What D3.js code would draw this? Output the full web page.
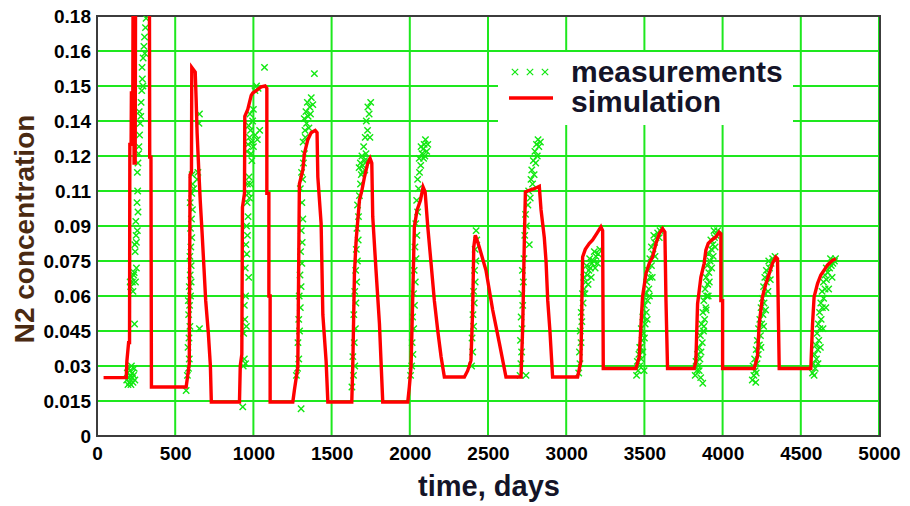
<!DOCTYPE html>
<html>
<head>
<meta charset="utf-8">
<script src="https://cdn.jsdelivr.net/npm/d3@7"></script>
<style>
  body { margin: 0; background: #fff; }
  svg { display: block; font-family: "Liberation Sans", Arial, sans-serif; }
</style>
</head>
<body>
<div id="chart"></div>
<script>
/* data: time in days, N2 concentration */
const xTicks = [0, 500, 1000, 1500, 2000, 2500, 3000, 3500, 4000, 4500, 5000];
const yTicks = [0, 0.015, 0.03, 0.045, 0.06, 0.075, 0.09, 0.105, 0.12, 0.135, 0.15, 0.165, 0.18];
const yTickLabels = ["0", "0.015", "0.03", "0.045", "0.06", "0.075", "0.09", "0.11", "0.12", "0.14", "0.15", "0.16", "0.18"];
const legendLabels = ["measurements", "simulation"];

const simulation = [
  [42, 0.025], [187, 0.025], [191, 0.032], [202, 0.04], [208, 0.04], [210, 0.125], [218, 0.125],
  [220, 0.147], [229, 0.147], [231, 0.2], [235, 0.2], [237, 0.117], [244, 0.117], [247, 0.2],
  [335, 0.2], [337, 0.1195], [345, 0.1195], [348, 0.021], [570, 0.021], [578, 0.025], [590, 0.031],
  [595, 0.112], [604, 0.113], [606, 0.158], [628, 0.156], [634, 0.144], [640, 0.13], [650, 0.115],
  [660, 0.101], [672, 0.087], [684, 0.072], [695, 0.058], [712, 0.044], [725, 0.03], [731, 0.0146],
  [911, 0.0146], [916, 0.03], [926, 0.035], [930, 0.098], [943, 0.104], [945, 0.137], [964, 0.14],
  [975, 0.143], [986, 0.146], [996, 0.147], [1018, 0.148], [1050, 0.1496], [1075, 0.15], [1086, 0.149],
  [1086, 0.104], [1099, 0.104], [1099, 0.06], [1107, 0.06], [1107, 0.0146], [1252, 0.0146],
  [1262, 0.0196], [1284, 0.0296], [1294, 0.108], [1316, 0.114], [1326, 0.121], [1348, 0.127],
  [1369, 0.13], [1395, 0.131], [1407, 0.13], [1412, 0.111], [1433, 0.091], [1444, 0.052],
  [1465, 0.032], [1476, 0.0146], [1629, 0.0146], [1636, 0.032], [1646, 0.0696], [1657, 0.084],
  [1678, 0.101], [1693, 0.105], [1710, 0.111], [1731, 0.117], [1746, 0.119], [1757, 0.117],
  [1763, 0.094], [1784, 0.071], [1806, 0.048], [1816, 0.032], [1827, 0.0146], [1987, 0.0146],
  [1997, 0.021], [2008, 0.0296], [2019, 0.06], [2029, 0.0896], [2046, 0.0967], [2068, 0.101],
  [2085, 0.1067], [2098, 0.1046], [2115, 0.0896], [2136, 0.074], [2157, 0.058], [2179, 0.045],
  [2200, 0.034], [2221, 0.0253], [2349, 0.0253], [2370, 0.028], [2391, 0.0324], [2402, 0.054],
  [2409, 0.081], [2419, 0.086], [2430, 0.084], [2444, 0.081], [2487, 0.071], [2530, 0.054],
  [2572, 0.04], [2615, 0.0253], [2711, 0.0253], [2722, 0.047], [2732, 0.0825], [2739, 0.1046],
  [2764, 0.1053], [2796, 0.106], [2828, 0.107], [2839, 0.097], [2860, 0.085], [2871, 0.075],
  [2882, 0.058], [2896, 0.045], [2913, 0.0253], [3073, 0.0253], [3094, 0.032], [3105, 0.0767],
  [3122, 0.08], [3147, 0.0825], [3169, 0.084], [3195, 0.0867], [3222, 0.0896], [3233, 0.088],
  [3237, 0.0289], [3446, 0.0289], [3467, 0.034], [3488, 0.0596], [3510, 0.0696], [3531, 0.074],
  [3552, 0.0767], [3574, 0.0825], [3595, 0.0867], [3616, 0.0889], [3631, 0.0874], [3638, 0.058],
  [3648, 0.0289], [3818, 0.0289], [3829, 0.032], [3840, 0.0567], [3850, 0.062], [3861, 0.068],
  [3882, 0.074], [3893, 0.0796], [3908, 0.0825], [3930, 0.084], [3957, 0.0853], [3978, 0.0874],
  [3989, 0.0867], [3989, 0.058], [4000, 0.058], [4000, 0.0289], [4202, 0.0289], [4223, 0.034],
  [4234, 0.048], [4255, 0.0596], [4277, 0.0653], [4298, 0.0696], [4319, 0.074], [4340, 0.0767],
  [4351, 0.076], [4362, 0.0289], [4564, 0.0289], [4575, 0.048], [4585, 0.0596], [4607, 0.0653],
  [4628, 0.069], [4649, 0.071], [4670, 0.0732], [4703, 0.0753], [4724, 0.076]
];

const measurements = [
  // first peak
  [190, 0.024], [194, 0.027], [198, 0.022], [202, 0.029], [205, 0.025], [208, 0.023], [211, 0.028],
  [214, 0.026], [217, 0.022], [220, 0.03], [223, 0.025], [226, 0.027], [230, 0.023], [234, 0.026],
  [238, 0.029], [242, 0.024], [240, 0.048], [215, 0.064], [222, 0.068], [230, 0.062], [238, 0.07],
  [246, 0.066], [252, 0.072], [244, 0.079], [252, 0.083], [258, 0.088], [248, 0.092], [262, 0.096],
  [256, 0.1], [260, 0.105], [258, 0.113], [262, 0.117], [268, 0.124], [272, 0.129], [276, 0.134],
  [270, 0.139], [282, 0.143], [286, 0.148], [290, 0.153], [288, 0.158], [295, 0.162], [300, 0.167],
  [304, 0.171], [310, 0.175], [314, 0.179], [226, 0.066], [234, 0.069], [250, 0.086], [266, 0.121],
  [280, 0.137], [294, 0.15], [306, 0.164], [212, 0.066], [242, 0.082],
  // second
  [570, 0.0195], [578, 0.026], [585, 0.029], [590, 0.033], [582, 0.038], [588, 0.042], [594, 0.047],
  [586, 0.052], [592, 0.056], [598, 0.06], [590, 0.064], [596, 0.069], [602, 0.073], [594, 0.077],
  [600, 0.081], [606, 0.085], [598, 0.089], [604, 0.093], [610, 0.097], [606, 0.104], [612, 0.108],
  [608, 0.112], [655, 0.046], [640, 0.11], [645, 0.113], [652, 0.134], [655, 0.138], [584, 0.058],
  [602, 0.066], [596, 0.1], [618, 0.106],
  // third
  [932, 0.0125], [935, 0.03], [942, 0.033], [950, 0.031], [938, 0.044], [945, 0.05], [955, 0.047],
  [942, 0.056], [950, 0.06], [970, 0.068], [948, 0.072], [958, 0.078], [952, 0.082], [962, 0.086],
  [956, 0.09], [966, 0.094], [960, 0.1], [968, 0.104], [962, 0.108], [972, 0.111], [958, 0.122],
  [966, 0.125], [975, 0.128], [982, 0.131], [970, 0.133], [988, 0.126], [995, 0.135], [978, 0.138],
  [1000, 0.14], [1010, 0.148], [1020, 0.15], [1030, 0.149], [1071, 0.158], [985, 0.121], [1000, 0.124],
  [1012, 0.129], [1025, 0.127], [1040, 0.131], [990, 0.118], [975, 0.102], [980, 0.108],
  // fourth
  [1305, 0.0117], [1275, 0.026], [1282, 0.029], [1290, 0.033], [1285, 0.04], [1295, 0.045],
  [1290, 0.05], [1300, 0.055], [1293, 0.06], [1305, 0.064], [1298, 0.069], [1310, 0.074],
  [1302, 0.079], [1312, 0.083], [1306, 0.088], [1316, 0.093], [1310, 0.1], [1300, 0.106],
  [1315, 0.11], [1308, 0.113], [1320, 0.117], [1326, 0.121], [1318, 0.126], [1330, 0.131],
  [1340, 0.134], [1350, 0.137], [1336, 0.139], [1360, 0.141], [1345, 0.143], [1370, 0.145], [1390, 0.1553],
  [1325, 0.136], [1355, 0.132], [1365, 0.138], [1332, 0.128], [1380, 0.142],
  // fifth
  [1630, 0.021], [1640, 0.026], [1648, 0.03], [1636, 0.034], [1645, 0.04], [1652, 0.046], [1642, 0.052],
  [1655, 0.057], [1648, 0.062], [1660, 0.066], [1654, 0.071], [1665, 0.075], [1658, 0.08], [1670, 0.084],
  [1662, 0.089], [1672, 0.094], [1666, 0.099], [1678, 0.103], [1685, 0.108], [1690, 0.112], [1676, 0.115],
  [1700, 0.116], [1710, 0.118], [1694, 0.12], [1720, 0.121], [1705, 0.124], [1715, 0.128], [1730, 0.131],
  [1722, 0.135], [1740, 0.138], [1732, 0.141], [1750, 0.143], [1684, 0.117], [1698, 0.113],
  [1712, 0.114], [1726, 0.118], [1745, 0.128],
  // sixth
  [2005, 0.026], [2012, 0.03], [2020, 0.035], [2015, 0.04], [2025, 0.046], [2018, 0.051], [2030, 0.056],
  [2024, 0.061], [2035, 0.066], [2028, 0.071], [2040, 0.076], [2033, 0.081], [2045, 0.086], [2038, 0.091],
  [2050, 0.096], [2044, 0.101], [2056, 0.106], [2050, 0.11], [2062, 0.113], [2070, 0.116], [2060, 0.119],
  [2078, 0.121], [2085, 0.123], [2092, 0.125], [2100, 0.127], [2088, 0.119], [2108, 0.122],
  [2072, 0.124], [2096, 0.12], [2115, 0.125],
  // seventh
  [2395, 0.03], [2402, 0.036], [2398, 0.042], [2408, 0.047], [2404, 0.052], [2412, 0.057], [2408, 0.062],
  [2418, 0.066], [2414, 0.071], [2422, 0.075], [2418, 0.08], [2428, 0.084], [2424, 0.088],
  // eighth
  [2705, 0.026], [2743, 0.026], [2710, 0.031], [2715, 0.036], [2708, 0.041], [2718, 0.046], [2712, 0.051],
  [2722, 0.056], [2716, 0.061], [2726, 0.066], [2720, 0.071], [2730, 0.076], [2764, 0.082], [2735, 0.086],
  [2745, 0.09], [2740, 0.095], [2755, 0.099], [2770, 0.102], [2760, 0.105], [2785, 0.108], [2795, 0.112],
  [2780, 0.114], [2805, 0.117], [2815, 0.12], [2800, 0.122], [2825, 0.124], [2835, 0.126], [2820, 0.127],
  [2790, 0.118], [2810, 0.125], [2775, 0.11],
  // ninth
  [3080, 0.027], [3088, 0.031], [3085, 0.036], [3095, 0.04], [3090, 0.045], [3100, 0.049], [3096, 0.053],
  [3108, 0.057], [3104, 0.061], [3115, 0.063], [3125, 0.066], [3112, 0.068], [3135, 0.069], [3145, 0.071],
  [3130, 0.073], [3155, 0.072], [3165, 0.074], [3150, 0.076], [3175, 0.075], [3190, 0.077], [3205, 0.078],
  [3180, 0.079], [3215, 0.08], [3120, 0.061], [3140, 0.065], [3160, 0.068], [3185, 0.072], [3200, 0.074],
  // tenth
  [3450, 0.026], [3460, 0.028], [3470, 0.03], [3455, 0.032], [3480, 0.033], [3465, 0.035], [3490, 0.036],
  [3475, 0.038], [3498, 0.028], [3485, 0.041], [3495, 0.044], [3480, 0.046], [3505, 0.048], [3490, 0.051],
  [3512, 0.053], [3500, 0.056], [3520, 0.058], [3508, 0.061], [3528, 0.063], [3515, 0.066], [3535, 0.068],
  [3525, 0.071], [3545, 0.073], [3535, 0.076], [3555, 0.078], [3545, 0.081], [3565, 0.083], [3575, 0.085],
  [3560, 0.086], [3585, 0.087], [3600, 0.088], [3610, 0.089], [3595, 0.085], [3470, 0.038], [3500, 0.042],
  [3518, 0.05], [3532, 0.06], [3550, 0.068], [3568, 0.077],
  // eleventh
  [3825, 0.026], [3835, 0.028], [3845, 0.03], [3830, 0.032], [3855, 0.033], [3840, 0.035], [3873, 0.0226],
  [3862, 0.036], [3850, 0.038], [3870, 0.04], [3858, 0.043], [3878, 0.045], [3866, 0.048], [3885, 0.05],
  [3874, 0.053], [3892, 0.055], [3880, 0.058], [3898, 0.06], [3888, 0.063], [3905, 0.065], [3895, 0.068],
  [3912, 0.07], [3902, 0.073], [3920, 0.075], [3910, 0.078], [3928, 0.08], [3938, 0.082], [3925, 0.084],
  [3948, 0.085], [3958, 0.086], [3945, 0.088], [3968, 0.088], [3860, 0.025], [3850, 0.028], [3880, 0.047],
  [3895, 0.054], [3908, 0.06], [3915, 0.066], [3930, 0.072], [3940, 0.077], [3952, 0.081],
  // twelfth
  [4190, 0.024], [4200, 0.026], [4212, 0.023], [4208, 0.028], [4195, 0.03], [4220, 0.031], [4205, 0.033],
  [4228, 0.035], [4215, 0.037], [4235, 0.039], [4222, 0.041], [4242, 0.043], [4230, 0.046], [4250, 0.048],
  [4238, 0.05], [4258, 0.052], [4246, 0.055], [4265, 0.057], [4254, 0.059], [4272, 0.061], [4262, 0.064],
  [4280, 0.066], [4270, 0.068], [4290, 0.069], [4280, 0.071], [4300, 0.072], [4310, 0.074], [4295, 0.075],
  [4320, 0.076], [4335, 0.077], [4215, 0.027], [4245, 0.038], [4262, 0.047], [4275, 0.054], [4290, 0.062],
  [4305, 0.067],
  // last
  [4575, 0.027], [4585, 0.026], [4592, 0.029], [4580, 0.031], [4600, 0.033], [4588, 0.035], [4608, 0.037],
  [4596, 0.039], [4615, 0.041], [4604, 0.044], [4622, 0.046], [4612, 0.048], [4630, 0.05], [4620, 0.053],
  [4638, 0.055], [4628, 0.057], [4646, 0.059], [4636, 0.062], [4655, 0.063], [4645, 0.066], [4664, 0.067],
  [4654, 0.069], [4673, 0.07], [4663, 0.072], [4684, 0.072], [4695, 0.073], [4705, 0.074], [4715, 0.075],
  [4690, 0.076], [4722, 0.076], [4610, 0.031], [4625, 0.038], [4642, 0.046], [4660, 0.055], [4678, 0.063],
  [4700, 0.068]
];

/* svg setup */
const width = 910, height = 506;
const plot = { left: 97, right: 879, top: 16, bottom: 436 };
const gridColor = "#1ee81e";
const markColor = "#11e811";
const lineColor = "#ff0000";

const svg = d3.select("#chart").append("svg")
  .attr("width", width)
  .attr("height", height);

const x = d3.scaleLinear().domain([0, 5000]).range([plot.left, plot.right]);
const y = d3.scaleLinear().domain([0, 0.18]).range([plot.bottom, plot.top]);

/* clip for the plot area (first peak goes off the top) */
svg.append("clipPath").attr("id", "plot-clip")
  .append("rect")
  .attr("x", plot.left).attr("y", plot.top)
  .attr("width", plot.right - plot.left).attr("height", plot.bottom - plot.top);

/* grid */
const grid = svg.append("g");
grid.selectAll("line.v").data(xTicks).enter().append("line")
  .attr("x1", (d) => x(d)).attr("x2", (d) => x(d))
  .attr("y1", plot.top).attr("y2", plot.bottom)
  .attr("stroke", gridColor).attr("stroke-width", 2);
grid.selectAll("line.h").data(yTicks).enter().append("line")
  .attr("x1", plot.left).attr("x2", plot.right)
  .attr("y1", (d) => y(d)).attr("y2", (d) => y(d))
  .attr("stroke", gridColor).attr("stroke-width", 2);

/* legend box hides the grid behind it */
const legend = svg.append("g");
legend.append("rect")
  .attr("x", 498).attr("y", 52)
  .attr("width", 295).attr("height", 73)
  .attr("fill", "#fff");

/* frame */
svg.append("rect")
  .attr("x", plot.left).attr("y", plot.top)
  .attr("width", plot.right - plot.left + 1).attr("height", plot.bottom - plot.top)
  .attr("fill", "none")
  .attr("stroke", "#3c3c3c")
  .attr("stroke-width", 2);

const xMark = "M-3.2,-3.2L3.2,3.2M-3.2,3.2L3.2,-3.2";

/* measurements */
svg.append("g")
  .attr("clip-path", "url(#plot-clip)")
  .selectAll("path")
  .data(measurements)
  .enter()
  .append("path")
  .attr("d", xMark)
  .attr("transform", (d) => `translate(${x(d[0])},${y(d[1])})`)
  .attr("fill", "none")
  .attr("stroke", markColor)
  .attr("stroke-width", 1.4);

/* simulation */
const line = d3.line().x((d) => x(d[0])).y((d) => y(d[1]));
svg.append("path")
  .datum(simulation)
  .attr("clip-path", "url(#plot-clip)")
  .attr("d", line)
  .attr("fill", "none")
  .attr("stroke", lineColor)
  .attr("stroke-width", 3.4)
  .attr("stroke-linejoin", "miter");

/* axes */
svg.append("g")
  .attr("transform", `translate(0,${plot.bottom})`)
  .call(d3.axisBottom(x).tickValues(xTicks).tickSize(0).tickPadding(11)
    .tickFormat(d3.format("d")))
  .call((g) => g.select(".domain").remove())
  .selectAll("text")
  .attr("fill", "#000")
  .style("font-size", "19px")
  .style("font-weight", "bold")
  .style("font-family", "'Liberation Sans', Arial, sans-serif");

svg.append("g")
  .attr("transform", `translate(${plot.left},0)`)
  .call(d3.axisLeft(y).tickValues(yTicks).tickSize(0).tickPadding(6)
    .tickFormat((d, i) => yTickLabels[i]))
  .call((g) => g.select(".domain").remove())
  .selectAll("text")
  .attr("fill", "#000")
  .style("font-size", "19px")
  .style("font-weight", "bold")
  .style("font-family", "'Liberation Sans', Arial, sans-serif");

/* axis titles */
svg.append("text")
  .attr("x", (plot.left + plot.right) / 2 + 1)
  .attr("y", 496)
  .attr("text-anchor", "middle")
  .attr("fill", "#141428")
  .style("font-size", "29px")
  .style("font-weight", "bold")
  .text("time, days");

svg.append("text")
  .attr("transform", "translate(34,229) rotate(-90)")
  .attr("text-anchor", "middle")
  .attr("fill", "#4a2a12")
  .style("font-size", "28px")
  .style("font-weight", "bold")
  .text("N2 concentration");

/* legend entries */
[515, 530, 545].forEach((cx) => {
  legend.append("path")
    .attr("d", xMark)
    .attr("transform", `translate(${cx},72)`)
    .attr("fill", "none")
    .attr("stroke", markColor)
    .attr("stroke-width", 1.2);
});
legend.append("line")
  .attr("x1", 509).attr("x2", 553)
  .attr("y1", 98).attr("y2", 98)
  .attr("stroke", lineColor)
  .attr("stroke-width", 3.4);
legend.selectAll("text.lbl")
  .data(legendLabels)
  .enter()
  .append("text")
  .attr("x", 571)
  .attr("y", (d, i) => 82 + i * 30)
  .attr("fill", "#141428")
  .style("font-size", "30px")
  .style("font-weight", "bold")
  .text((d) => d);
</script>
</body>
</html>
